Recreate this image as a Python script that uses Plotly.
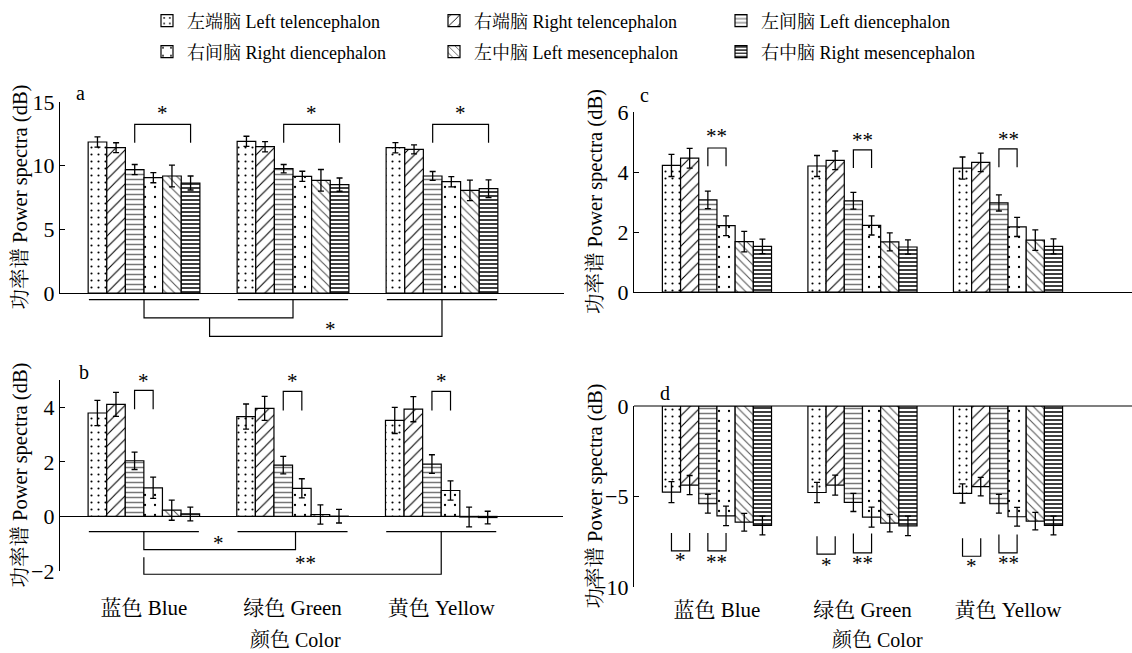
import plotly.graph_objects as go

W, H = 1132, 653
FONT = 'Liberation Serif, "Noto Serif CJK SC", "Noto Sans CJK SC", serif'

# ---------------- data ----------------
color_labels = ["蓝色 Blue", "绿色 Green", "黄色 Yellow"]
region_names = ["左端脑 Left telencephalon", "右端脑 Right telencephalon", "左间脑 Left diencephalon",
                "右间脑 Right diencephalon", "左中脑 Left mesencephalon", "右中脑 Right mesencephalon"]

# rows = regions (LT, RT, LD, RD, LM, RM); columns = colour (Blue, Green, Yellow)
a_mean = [[11.86, 11.91, 11.41], [11.41, 11.49, 11.28], [9.69, 9.76, 9.19],
          [9.06, 9.16, 8.74], [9.19, 8.85, 8.06], [8.64, 8.51, 8.19]]
a_err = [[0.40, 0.40, 0.40], [0.39, 0.40, 0.35], [0.40, 0.33, 0.35],
         [0.40, 0.40, 0.40], [0.85, 0.85, 0.80], [0.55, 0.52, 0.70]]

b_mean = [[3.79, 3.66, 3.52], [4.11, 3.96, 3.93], [2.04, 1.88, 1.92],
          [1.05, 1.03, 0.95], [0.23, 0.07, -0.02], [0.09, 0.01, -0.04]]
b_err = [[0.46, 0.46, 0.48], [0.44, 0.44, 0.46], [0.32, 0.32, 0.34],
         [0.39, 0.35, 0.35], [0.37, 0.35, 0.36], [0.25, 0.25, 0.23]]

c_mean = [[4.22, 4.20, 4.13], [4.46, 4.39, 4.32], [3.07, 3.04, 2.97],
          [2.21, 2.22, 2.17], [1.68, 1.67, 1.73], [1.52, 1.50, 1.52]]
c_err = [[0.37, 0.35, 0.37], [0.33, 0.31, 0.31], [0.29, 0.28, 0.27],
         [0.33, 0.32, 0.32], [0.34, 0.30, 0.34], [0.24, 0.24, 0.25]]

d_mean = [[-4.76, -4.78, -4.83], [-4.37, -4.37, -4.45], [-5.40, -5.33, -5.40],
          [-6.07, -6.14, -6.12], [-6.42, -6.47, -6.36], [-6.60, -6.62, -6.60]]
d_err = [[0.58, 0.56, 0.53], [0.53, 0.55, 0.51], [0.52, 0.50, 0.52],
         [0.54, 0.55, 0.52], [0.49, 0.48, 0.48], [0.52, 0.54, 0.52]]

panel_letters = ["a", "b", "c", "d"]
y_ticks = [[0, 5, 10, 15], [-2, 0, 2, 4], [0, 2, 4, 6], [-10, -5, 0]]
y_title = "功率谱 Power spectra (dB)"
x_title = "颜色 Color"

# significance brackets within a colour group: (panel, group, bar_i, bar_j, y_line, y_leg_end, label, y_label)
pair_brackets = [
    (0, 0, 2, 5, 13.25, 11.8, "*", 14.1), (0, 1, 2, 5, 13.25, 11.8, "*", 14.1), (0, 2, 2, 5, 13.25, 11.8, "*", 14.1),
    (1, 0, 2, 3, 4.62, 3.93, "*", 4.98), (1, 1, 2, 3, 4.58, 3.88, "*", 4.95), (1, 2, 2, 3, 4.58, 3.88, "*", 4.95),
    (2, 0, 2, 3, 4.80, 4.19, "**", 5.19), (2, 1, 2, 3, 4.74, 4.13, "**", 5.08), (2, 2, 2, 3, 4.77, 4.16, "**", 5.10),
    (3, 0, 0, 1, -8.00, -7.02, "*", -8.5), (3, 0, 2, 3, -8.00, -7.02, "**", -8.6),
    (3, 1, 0, 1, -8.18, -7.20, "*", -8.77), (3, 1, 2, 3, -8.12, -7.05, "**", -8.65),
    (3, 2, 0, 1, -8.30, -7.30, "*", -8.85), (3, 2, 2, 3, -8.12, -7.10, "**", -8.65),
]
# group underline levels (panel, y) and between-colour brackets
group_lines = [(0, -0.52), (1, -0.56)]
# (panel, polyline points [(x, y)...], label, x_label, y_label)
color_brackets = [
    (0, [(0, -0.52), (0, -1.96), (1.0, -1.96), (1.0, -0.52)], None, None, None),
    (0, [(0.44, -1.96), (0.44, -3.40), (2.0, -3.40), (2.0, -0.52)], "*", 1.25, -2.8),
    (1, [(0, -0.56), (0, -1.22), (1.02, -1.22), (1.02, -0.56)], "*", 0.5, -0.99),
    (1, [(0, -1.50), (0, -2.12), (2.0, -2.12), (2.0, -0.56)], "**", 1.09, -1.72),
]

# ---------------- styling ----------------
patterns = [
    dict(shape=".", fgcolor="black", size=7, solidity=0.07),
    dict(shape="/", fgcolor="black", size=8, solidity=0.14),
    dict(shape="-", fgcolor="#777777", size=5, solidity=0.3),
    dict(shape=".", fgcolor="black", size=10, solidity=0.04),
    dict(shape="\\", fgcolor="#555555", size=6, solidity=0.18),
    dict(shape="-", fgcolor="black", size=4, solidity=0.38),
]

x_px = [(60, 564), (60, 563), (634, 1132), (634, 1132)]
y_px = [(102, 293), (380, 571), (112, 292), (406, 587)]
x_ranges = [[-0.564, 2.819], [-0.564, 2.819], [-0.57, 2.852], [-0.57, 2.852]]
y_ranges = [[0, 15], [-2, 5], [0, 6], [-10, 0]]

means = [a_mean, b_mean, c_mean, d_mean]
errs = [a_err, b_err, c_err, d_err]
bar_offsets = [-0.3125 + 0.125 * k for k in range(6)]

fig = go.Figure()
for p in range(4):
    xa = "x" if p == 0 else f"x{p+1}"
    ya = "y" if p == 0 else f"y{p+1}"
    for k in range(6):
        fig.add_trace(go.Bar(
            x=[0, 1, 2], y=means[p][k], name=region_names[k],
            xaxis=xa, yaxis=ya,
            marker=dict(color="white", line=dict(color="black", width=1.2),
                        pattern=dict(bgcolor="white", **patterns[k])),
            error_y=dict(type="data", array=errs[p][k], color="black", thickness=1.3, width=3),
            showlegend=(p == 0), legendgroup=str(k),
            legend="legend" if k < 3 else "legend2",
        ))


def dx(p, x):
    r = x_ranges[p]
    return (x - r[0]) / (r[1] - r[0])


def dy(p, y):
    r = y_ranges[p]
    return (y - r[0]) / (r[1] - r[0])


def refs(p):
    s = "" if p == 0 else str(p + 1)
    return f"x{s} domain", f"y{s} domain"


shapes = []
annotations = []
line_style = dict(color="black", width=1.2)
STAR = dict(size=21, family=FONT, color="black")

for (p, g, i, j, yl, ye, lab, ylab) in pair_brackets:
    xr, yr = refs(p)
    x0 = dx(p, g + bar_offsets[i])
    x1 = dx(p, g + bar_offsets[j])
    path = f"M{x0},{dy(p, ye)} L{x0},{dy(p, yl)} L{x1},{dy(p, yl)} L{x1},{dy(p, ye)}"
    shapes.append(dict(type="path", path=path, xref=xr, yref=yr, line=line_style))
    annotations.append(dict(text=lab, x=(x0 + x1) / 2, y=dy(p, ylab), xref=xr, yref=yr,
                            showarrow=False, font=STAR, xanchor="center", yanchor="middle"))

for (p, yv) in group_lines:
    xr, yr = refs(p)
    for g in range(3):
        shapes.append(dict(type="line", x0=dx(p, g - 0.37), x1=dx(p, g + 0.37),
                           y0=dy(p, yv), y1=dy(p, yv), xref=xr, yref=yr, line=line_style))

for (p, pts, lab, xl, yl) in color_brackets:
    xr, yr = refs(p)
    path = "M" + " L".join(f"{dx(p, x)},{dy(p, y)}" for x, y in pts)
    shapes.append(dict(type="path", path=path, xref=xr, yref=yr, line=line_style))
    if lab:
        annotations.append(dict(text=lab, x=dx(p, xl), y=dy(p, yl), xref=xr, yref=yr,
                                showarrow=False, font=STAR, xanchor="center", yanchor="middle"))

# top baseline for panel d
shapes.append(dict(type="line", x0=0, x1=1, y0=1, y1=1, xref="x4 domain", yref="y4 domain", line=line_style))

# panel letters
letter_pos = [(80, 93), (84, 372), (644, 95), (665, 393)]
for (lx, ly), t in zip(letter_pos, panel_letters):
    annotations.append(dict(text=t, x=lx / W, y=1 - ly / H, xref="paper", yref="paper", showarrow=False,
                            font=dict(size=20, family=FONT, color="black"), xanchor="center", yanchor="middle"))
# x-axis titles
for cx in (295, 877):
    annotations.append(dict(text=x_title, x=cx / W, y=1 - 640 / H, xref="paper", yref="paper",
                            showarrow=False, font=dict(size=20, family=FONT, color="black"),
                            xanchor="center", yanchor="middle", borderpad=0))
# y-axis titles
for p, tx in zip(range(4), (20, 20, 595, 595)):
    cy = (y_px[p][0] + y_px[p][1]) / 2
    annotations.append(dict(text=y_title, x=tx / W, y=1 - cy / H, xref="paper", yref="paper",
                            showarrow=False, textangle=-90, font=dict(size=20.5, family=FONT, color="black"),
                            xanchor="center", yanchor="middle"))

LEG = dict(orientation="h", x=147 / W, xanchor="left", yanchor="middle",
           entrywidth=242, entrywidthmode="pixels", font=dict(size=18, family=FONT, color="black"),
           bgcolor="rgba(0,0,0,0)", itemwidth=30)

layout = dict(
    template="none",
    width=W, height=H, margin=dict(l=0, r=0, t=0, b=0, autoexpand=False),
    paper_bgcolor="white", plot_bgcolor="white",
    barmode="group", bargap=0.25, bargroupgap=0,
    font=dict(family=FONT, size=20, color="black"),
    shapes=shapes, annotations=annotations,
    legend=dict(y=1 - 21 / H, **LEG),
    legend2=dict(y=1 - 52 / H, **LEG),
)

for p in range(4):
    s = "" if p == 0 else str(p + 1)
    xdom = [x_px[p][0] / W, x_px[p][1] / W]
    ydom = [1 - y_px[p][1] / H, 1 - y_px[p][0] / H]
    show_lab = p in (1, 3)
    layout[f"xaxis{s}"] = dict(
        domain=xdom, anchor=f"y{s}", range=x_ranges[p], showgrid=False, zeroline=False,
        automargin=False,
        showline=(p in (0, 2)), linecolor="black", linewidth=1.2, ticks="",
        tickvals=[0, 1, 2], ticktext=color_labels, showticklabels=show_lab,
        ticklabelstandoff=(22 if p == 1 else 8), tickfont=dict(size=21, family=FONT, color="black"),
    )
    layout[f"yaxis{s}"] = dict(
        domain=ydom, anchor=f"x{s}", range=y_ranges[p], showgrid=False, automargin=False,
        zeroline=(p == 1), zerolinecolor="black", zerolinewidth=1.2,
        showline=True, linecolor="black", linewidth=1.2,
        ticks="inside", ticklen=5, tickwidth=1.2, tickcolor="black",
        tickvals=y_ticks[p], tickfont=dict(size=22, family=FONT, color="black"),
    )

fig.update_layout(**layout)
fig.write_html("out.html", config={"displayModeBar": False},
               post_script="document.body.style.margin='0px';")
